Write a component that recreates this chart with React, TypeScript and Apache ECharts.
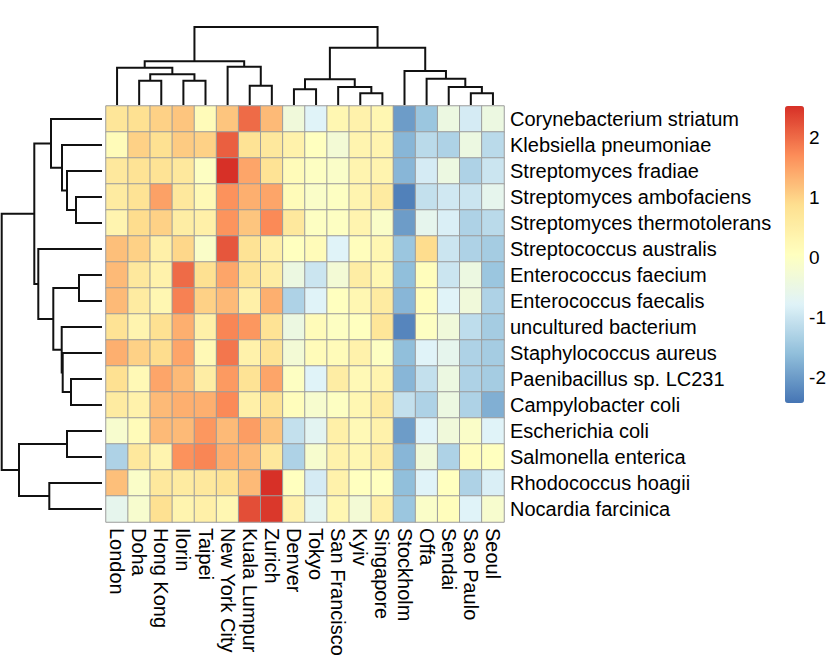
import React, { useEffect, useRef } from "react";
import * as echarts from "echarts";

const colNames = [
  "London", "Doha", "Hong Kong", "Ilorin", "Taipei", "New York City", "Kuala Lumpur", "Zurich",
  "Denver", "Tokyo", "San Francisco", "Kyiv", "Singapore", "Stockholm", "Offa", "Sendai", "Sao Paulo", "Seoul",
];

const rowNames = [
  "Corynebacterium striatum", "Klebsiella pneumoniae", "Streptomyces fradiae", "Streptomyces ambofaciens",
  "Streptomyces thermotolerans", "Streptococcus australis", "Enterococcus faecium", "Enterococcus faecalis",
  "uncultured bacterium", "Staphylococcus aureus", "Paenibacillus sp. LC231", "Campylobacter coli",
  "Escherichia coli", "Salmonella enterica", "Rhodococcus hoagii", "Nocardia farcinica",
];

// one row per species, columns in the order of colNames
const cellValues = [
  [0.71, 0.84, 1.02, 1.14, 0.15, 1.14, 2.0, 1.25, -0.35, -0.78, 0.27, 0.4, 0.27, -2.0, -1.5, -0.45, -0.9, -0.45],
  [0.15, 1.02, 0.84, 1.08, 1.02, 2.1, 0.78, 0.65, 0.4, 0.05, -0.27, 0.33, 0.33, -1.7, -1.18, -1.3, -0.45, -1.18],
  [0.65, 0.78, 0.78, 0.65, 0.0, 2.52, 1.46, 0.78, 0.15, 0.0, -0.08, 0.33, 0.33, -1.7, -0.9, -0.45, -1.3, -1.0],
  [0.58, 0.78, 1.5, 0.65, 0.2, 1.65, 1.36, 1.46, 0.15, -0.08, 0.0, 0.33, 0.58, -2.3, -1.08, -0.95, -1.0, -0.62],
  [0.33, 0.9, 1.02, 0.52, 0.45, 1.63, 1.14, 1.72, 0.65, 0.0, 0.0, 0.33, -0.08, -2.0, -0.62, -0.84, -1.3, -1.18],
  [1.2, 1.02, 0.45, 0.96, -0.08, 2.18, 0.78, 0.45, 0.05, 0.15, -0.78, 0.1, 0.27, -1.5, 0.9, -1.0, -1.3, -1.4],
  [1.25, 0.65, 0.4, 2.0, 0.84, 1.46, 0.78, 0.52, -0.45, -1.0, -0.27, 0.52, 0.27, -1.6, 0.1, -1.0, -0.45, -1.5],
  [1.25, 0.58, 0.27, 1.8, 1.02, 1.25, 0.45, 1.36, -1.3, -0.78, 0.05, 0.27, 0.58, -1.7, 0.1, -0.78, -0.35, -1.3],
  [0.78, 0.33, 0.84, 1.36, 0.45, 1.76, 1.6, 0.78, -0.45, 0.15, 0.0, 0.05, 0.71, -2.25, 0.0, -0.35, -1.13, -1.4],
  [1.36, 1.02, 0.9, 1.46, 0.2, 1.9, 0.4, 0.78, -0.27, 0.15, 0.15, 0.4, 0.0, -1.6, -0.78, -0.62, -1.3, -1.4],
  [0.84, 0.2, 1.46, 1.25, 0.52, 1.57, 0.78, 1.46, 0.0, -0.78, 0.52, 0.2, 0.33, -1.7, -1.08, -0.45, -1.3, -1.4],
  [0.58, 0.4, 1.25, 1.36, 1.36, 1.72, 0.45, 0.78, 0.1, -0.17, 0.0, 0.27, 0.58, -1.08, -1.3, -0.45, -1.3, -1.78],
  [-0.17, 0.15, 1.25, 1.25, 1.6, 1.25, 1.54, 1.14, -1.08, -0.7, 0.45, 0.2, 0.4, -2.0, -0.78, -0.35, -0.08, -0.78],
  [-1.3, 0.65, 0.33, 1.65, 1.76, 1.36, 1.25, 0.65, -1.3, -0.17, 0.4, 0.27, 0.52, -1.7, -0.35, -1.3, 0.1, 0.05],
  [1.2, -0.08, 0.65, 0.58, 0.65, 0.78, 1.25, 2.52, 0.05, -0.9, 0.4, 0.05, 0.05, -1.6, -0.78, 0.05, -1.3, -0.84],
  [-0.62, -0.17, 0.84, 0.33, 0.45, 0.27, 2.25, 2.45, 0.4, -0.7, 0.27, -0.27, 0.45, -1.5, -0.08, 0.1, -0.78, -0.17],
];

// dendrogram merges: [childA, childB, height]; ids < n are leaves, id n+j is merge j
const colMerges: [number, number, number][] = [
  [1, 2, 24.3], [3, 4, 24.3], [18, 19, 30.7], [0, 20, 37.3], [6, 7, 19.3], [5, 22, 38.3], [21, 23, 43.7],
  [8, 9, 15.7], [11, 12, 11.7], [10, 26, 18], [25, 27, 25.7], [16, 17, 11.7], [15, 29, 18], [14, 30, 26.3],
  [13, 31, 34], [28, 32, 57.3], [24, 33, 78],
];
const rowMerges: [number, number, number][] = [
  [3, 4, 26], [2, 16, 35], [1, 17, 40], [0, 18, 51], [6, 7, 23], [10, 11, 31], [9, 21, 39.3], [8, 22, 40.3],
  [20, 23, 48.7], [5, 24, 63.7], [19, 25, 67.7], [12, 13, 35], [14, 15, 52.7], [27, 28, 83], [26, 29, 100.3],
];

const scaleMin = -2.43;
const scaleMax = 2.52;
const palette = ["#4575B4", "#91BFDB", "#E0F3F8", "#FFFFBF", "#FEE090", "#FC8D59", "#D73027"];

function dendroSegments(n: number, merges: [number, number, number][], horizontal: boolean) {
  const pos: number[] = [];
  const hgt: number[] = [];
  for (let i = 0; i < n; i++) {
    pos[i] = i + 0.5;
    hgt[i] = 0;
  }
  return merges.map(([a, b, h], j) => {
    const id = n + j;
    pos[id] = (pos[a] + pos[b]) / 2;
    hgt[id] = h;
    const pts = [
      [pos[a], hgt[a]],
      [pos[a], h],
      [pos[b], h],
      [pos[b], hgt[b]],
    ];
    return { coords: horizontal ? pts.map(([p, v]) => [v, p]) : pts };
  });
}

const FONT = "'Liberation Sans', Arial, Helvetica, sans-serif";

export default function App() {
  const ref = useRef<HTMLDivElement>(null);
  useEffect(() => {
    if (!ref.current) return;
    const chart = echarts.init(ref.current, undefined, { renderer: "svg" });
    const heatData: number[][] = [];
    cellValues.forEach((row, r) => row.forEach((v, c) => heatData.push([c, r, v])));
    const lineStyle = { color: "#111", width: 2, opacity: 1 };
    chart.setOption({
      animation: false,
      backgroundColor: "#fff",
      textStyle: { fontFamily: FONT },
      grid: [
        { left: 106, top: 106, width: 398, height: 416 },
        { left: 106, top: 25, width: 398, height: 80 },
        { left: 1, top: 106, width: 101, height: 416 },
        { left: 785, top: 106, width: 19, height: 297 },
      ],
      xAxis: [
        {
          type: "category",
          gridIndex: 0,
          data: colNames,
          position: "bottom",
          axisLine: { show: false },
          axisTick: { show: false },
          splitLine: { show: false },
          axisLabel: { rotate: -90, fontSize: 20, color: "#000", margin: 6, interval: 0, fontFamily: FONT },
        },
        { type: "value", gridIndex: 1, min: 0, max: 18, show: false },
        { type: "value", gridIndex: 2, min: 0, max: 101, inverse: true, show: false },
        { type: "value", gridIndex: 3, min: 0, max: 1, show: false },
      ],
      yAxis: [
        {
          type: "category",
          gridIndex: 0,
          data: rowNames,
          inverse: true,
          position: "right",
          axisLine: { show: false },
          axisTick: { show: false },
          splitLine: { show: false },
          axisLabel: { fontSize: 20, color: "#000", margin: 6, interval: 0, fontFamily: FONT },
        },
        { type: "value", gridIndex: 1, min: 0, max: 80, show: false },
        { type: "value", gridIndex: 2, min: 0, max: 16, inverse: true, show: false },
        {
          type: "value",
          gridIndex: 3,
          min: scaleMin,
          max: scaleMax,
          position: "right",
          splitNumber: 5,
          axisLine: { show: false },
          axisTick: { show: false },
          splitLine: { show: false },
          axisLabel: {
            fontSize: 19,
            color: "#000",
            margin: 9,
            fontFamily: FONT,
            formatter: (v: number) => (Math.abs(v - Math.round(v)) < 1e-6 ? String(Math.round(v)) : ""),
          },
        },
      ],
      visualMap: {
        type: "continuous",
        seriesIndex: 0,
        min: scaleMin,
        max: scaleMax,
        inRange: { color: palette },
        left: 785,
        top: 106,
        itemWidth: 19,
        itemHeight: 297,
        padding: 0,
        calculable: false,
        hoverLink: false,
        show: true,
      },
      series: [
        {
          type: "heatmap",
          xAxisIndex: 0,
          yAxisIndex: 0,
          data: heatData,
          itemStyle: { borderColor: "#9c9c9c", borderWidth: 1 },
          emphasis: { disabled: true },
          silent: true,
        },
        {
          type: "lines",
          coordinateSystem: "cartesian2d",
          xAxisIndex: 1,
          yAxisIndex: 1,
          polyline: true,
          silent: true,
          data: dendroSegments(colNames.length, colMerges, false),
          lineStyle,
        },
        {
          type: "lines",
          coordinateSystem: "cartesian2d",
          xAxisIndex: 2,
          yAxisIndex: 2,
          polyline: true,
          silent: true,
          data: dendroSegments(rowNames.length, rowMerges, true),
          lineStyle,
        },
      ],
    });
    return () => chart.dispose();
  }, []);
  return (
    <div
      ref={ref}
      style={{ position: "fixed", left: 0, top: 0, width: 829, height: 660, background: "#fff" }}
    />
  );
}
